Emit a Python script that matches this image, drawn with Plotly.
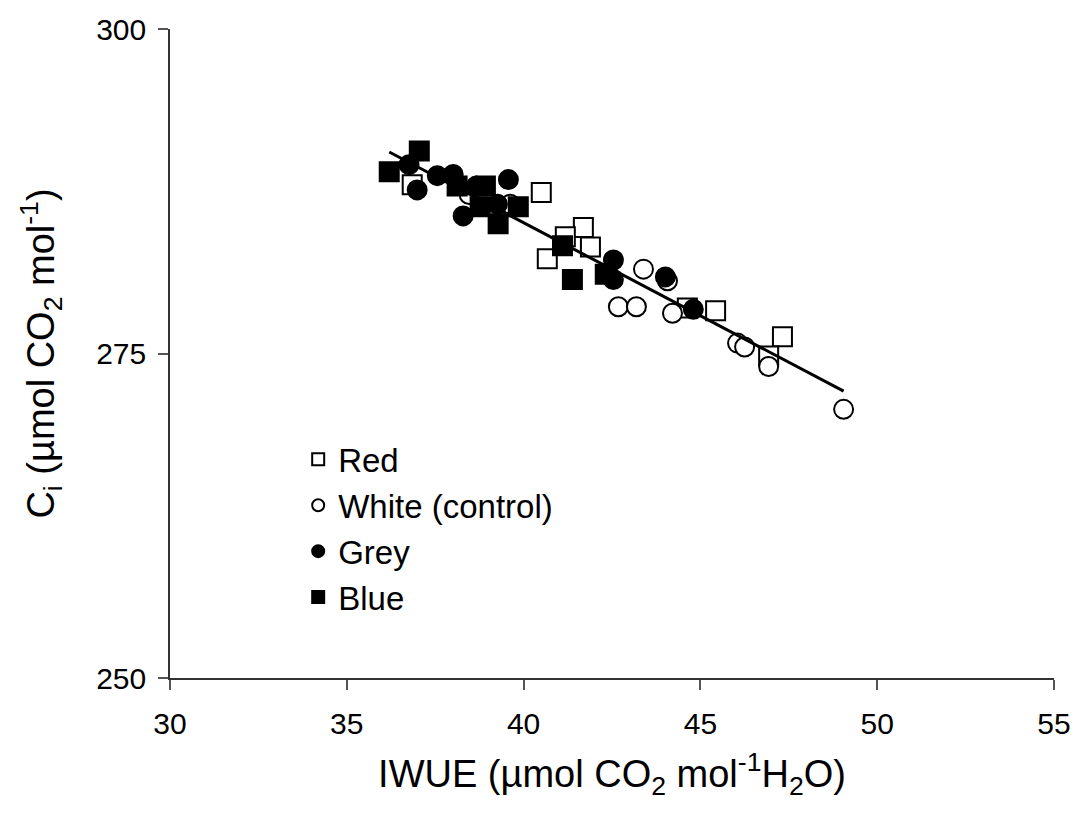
import numpy as np
import plotly.graph_objects as go

# Data
red_x = [36.85, 40.50, 41.69, 41.18, 41.89, 40.67, 44.63, 45.43, 47.32, 46.93]
red_y = [288.0, 287.4, 284.7, 284.0, 283.2, 282.3, 278.5, 278.3, 276.3, 274.8]

white_x = [38.46, 39.62, 43.39, 44.07, 42.68, 43.19, 44.21, 46.05, 46.25, 46.93, 49.05]
white_y = [287.25, 286.5, 281.5, 280.6, 278.6, 278.6, 278.1, 275.8, 275.5, 274.0, 270.7]

grey_x = [36.76, 36.99, 37.56, 38.01, 38.29, 38.66, 39.57, 39.26, 42.54, 42.54, 44.01, 44.80]
grey_y = [289.55, 287.6, 288.7, 288.8, 285.6, 287.9, 288.4, 286.5, 282.2, 280.7, 280.9, 278.4]

blue_x = [36.20, 37.05, 38.12, 38.92, 38.77, 39.28, 39.85, 41.10, 41.38, 42.31]
blue_y = [289.0, 290.6, 287.9, 287.9, 286.3, 285.0, 286.3, 283.3, 280.7, 281.1]

x_ticks = [30, 35, 40, 45, 50, 55]
y_ticks = [250, 275, 300]

FONT = "Arial, Liberation Sans, sans-serif"

fig = go.Figure()

def add(name, xs, ys, symbol, fill):
    fig.add_trace(go.Scatter(
        x=xs, y=ys, mode="markers", name=name, legendgroup=name,
        marker=dict(symbol=symbol, size=19, color=fill,
                    line=dict(color="black", width=2)),
    ))

add("Red", red_x, red_y, "square", "white")
add("White (control)", white_x, white_y, "circle", "white")
add("Grey", grey_x, grey_y, "circle", "black")
add("Blue", blue_x, blue_y, "square", "black")

# Linear regression across all points
all_x = np.array(red_x + white_x + grey_x + blue_x)
all_y = np.array(red_y + white_y + grey_y + blue_y)
slope, intercept = np.polyfit(all_x, all_y, 1)
lx = np.array([all_x.min(), all_x.max()])
fig.add_trace(go.Scatter(x=lx, y=slope * lx + intercept, mode="lines",
                         line=dict(color="black", width=3), showlegend=False,
                         hoverinfo="skip"))

fig.update_layout(
    width=1083, height=827,
    margin=dict(l=170, r=29, t=25, b=149),
    paper_bgcolor="white", plot_bgcolor="white",
    font=dict(family=FONT, size=30, color="black"),
    showlegend=True,
    legend=dict(x=0.145, y=0.38, xanchor="left", yanchor="top",
                font=dict(size=33, family=FONT), bgcolor="rgba(0,0,0,0)",
                tracegroupgap=0, itemsizing="constant"),
    xaxis=dict(range=[30, 55], tickvals=x_ticks, showgrid=False, zeroline=False,
               showline=True, linecolor="#333", linewidth=1.5,
               ticks="outside", ticklen=10, tickcolor="#555", tickwidth=1.5,
               tickfont=dict(size=30), ticklabelstandoff=8,
               title=dict(text="IWUE (µmol CO<sub>2</sub> mol<sup>-1</sup>H<sub>2</sub>O)",
                          font=dict(size=38), standoff=22)),
    yaxis=dict(range=[250, 300], tickvals=y_ticks, showgrid=False, zeroline=False,
               showline=True, linecolor="#333", linewidth=1.5,
               ticks="outside", ticklen=10, tickcolor="#555", tickwidth=1.5,
               tickfont=dict(size=30), ticklabelstandoff=6,
               title=dict(text="C<sub>i</sub> (µmol CO<sub>2</sub> mol<sup>-1</sup>)",
                          font=dict(size=38), standoff=30)),
)

fig.write_html("out.html")
